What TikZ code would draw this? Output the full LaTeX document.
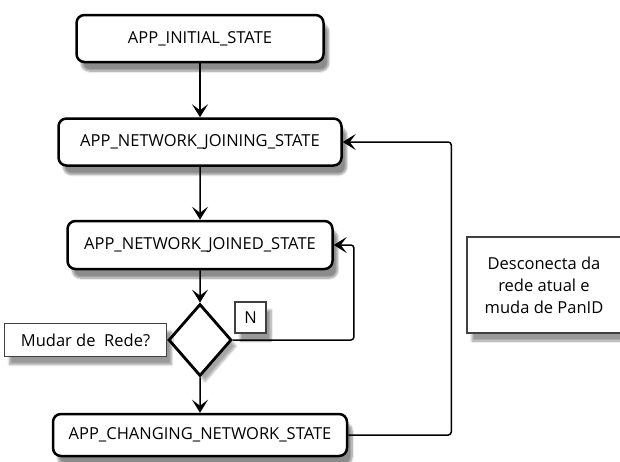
\documentclass[tikz,border=0pt]{standalone}
\usepackage{fontspec}
\setmainfont{Open Sans}
\usetikzlibrary{positioning,shapes.geometric,arrows.meta,shadows.blur}
\begin{document}
\begin{tikzpicture}[x=1pt,y=-1pt,font=\fontsize{16.5}{22}\selectfont,
	state/.style={draw,fill=white,rounded corners=8pt,line width=2.5pt,minimum height=47pt,inner xsep=2pt,
		blur shadow={shadow xshift=5pt,shadow yshift=-9pt,shadow blur steps=8,shadow opacity=45}},
	decision/.style={diamond,draw,fill=white,line width=2.8pt,inner sep=0,minimum width=63pt,minimum height=72pt,
		blur shadow={shadow xshift=5pt,shadow yshift=-6pt,shadow blur steps=8,shadow opacity=35}},
	note/.style={draw=black!75,fill=white,line width=1.2pt,inner sep=0,
		blur shadow={shadow xshift=5pt,shadow yshift=-8pt,shadow blur steps=8,shadow opacity=40}},
	link/.style={draw,line width=1.5pt,-{Stealth[length=13pt,width=16pt,inset=6pt]}},
	level 1/.style={level distance=103.5pt},
	level 2/.style={level distance=103pt},
	level 3/.style={level distance=95pt},
	level 4/.style={level distance=95pt},
	edge from parent/.style={link}]
\useasboundingbox (0,0) rectangle (620,461);
\node[state,minimum width=247pt] (initial) at (200,38.5) {APP\_INITIAL\_STATE}
child {node[state,minimum width=283pt] (joining) {APP\_NETWORK\_JOINING\_STATE}
	child {node[state,minimum width=265pt,minimum height=48pt] (joined) {APP\_NETWORK\_JOINED\_STATE}
		child {node[decision] (ask) {}
			child {node[state,minimum width=294pt,minimum height=42pt] (changing) {APP\_CHANGING\_NETWORK\_STATE}}
			}
		}
	};
\node[note,left=0pt of ask,minimum width=162pt,minimum height=33pt] (mudar) {Mudar de\ \ Rede?};
\node[note,minimum size=31pt] (no) at (250.5,317.5) {N};
\node[note,align=center,minimum width=154pt,minimum height=96pt] (desconecta) at (544,285)
	{Desconecta da\\rede atual e\\muda de PanID};
\draw[link,rounded corners=3pt] (ask.east) -- ++(121,0) |- (joined.east);
\draw[link,rounded corners=3pt] (changing.east) -- ++(103,0) |- (joining.east);
\end{tikzpicture}
\end{document}
